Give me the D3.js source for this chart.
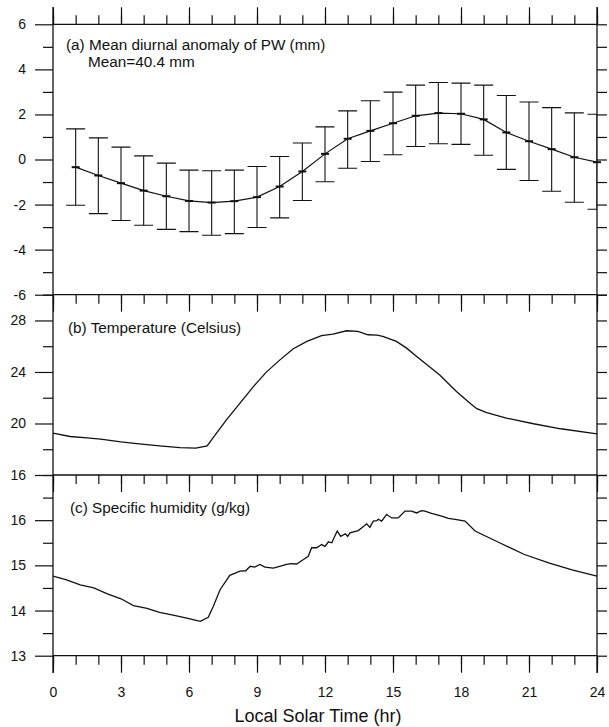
<!DOCTYPE html>
<html>
<head>
<meta charset="utf-8">
<script src="https://cdn.jsdelivr.net/npm/d3@7"></script>
<style>
  body { margin: 0; background: #fff; }
  svg { display: block; font-family: "Liberation Sans", Arial, sans-serif; }
  .domain { display: none; }
  .tick line { stroke: #111; stroke-width: 1.2; }
  .tick text { fill: #111; font-size: 14px; }
</style>
</head>
<body>
<svg id="chart" width="609" height="727"></svg>
<script>
// (a) mean diurnal anomaly of PW (mm), hourly with error bars
var pwHours = [1, 2, 3, 4, 5, 6, 7, 8, 9, 10, 11, 12, 13, 14, 15, 16, 17, 18, 19, 20, 21, 22, 23, 24]
var pwMean = [-0.34, -0.71, -1.05, -1.38, -1.63, -1.84, -1.91, -1.85, -1.67, -1.2, -0.53, 0.25,
              0.92, 1.27, 1.61, 1.94, 2.06, 2.03, 1.78, 1.2, 0.81, 0.46, 0.1, -0.12]
var pwHigh = [1.36, 0.96, 0.55, 0.16, -0.16, -0.47, -0.5, -0.47, -0.31, 0.13, 0.73, 1.45,
              2.16, 2.61, 2.99, 3.3, 3.42, 3.39, 3.3, 2.84, 2.55, 2.3, 2.07, 2.01]
var pwLow = [-2.03, -2.4, -2.71, -2.92, -3.1, -3.2, -3.36, -3.29, -3.02, -2.59, -1.82, -0.99,
             -0.39, -0.09, 0.21, 0.58, 0.7, 0.67, 0.19, -0.44, -0.93, -1.41, -1.9, -2.21]

// (b) temperature (Celsius)
var tempHours = [0, 0.75, 1.5, 2.1, 3, 3.8, 4.7, 5.6, 6.3, 6.8, 7.05, 7.65, 8.25, 8.85, 9.4, 10.0,
                 10.6, 11.2, 11.85, 12.35, 12.95, 13.45, 13.9, 14.3, 14.55, 15.15, 15.6, 16.1, 17.05,
                 17.8, 18.45, 18.7, 19.1, 20.0, 21.2, 22.4, 24]
var tempVals = [19.25, 18.99, 18.88, 18.78, 18.57, 18.42, 18.26, 18.13, 18.08, 18.26, 18.86, 20.28,
                21.58, 22.88, 23.97, 24.92, 25.8, 26.37, 26.83, 26.94, 27.2, 27.15, 26.89, 26.86,
                26.76, 26.37, 25.85, 25.12, 23.79, 22.49, 21.5, 21.15, 20.86, 20.42, 19.98, 19.59, 19.2]

// (c) specific humidity (g/kg)
var qHours = [0, 0.6, 1.2, 1.8, 2.4, 3.0, 3.55, 4.15, 4.7, 5.3, 5.9, 6.5, 6.85, 7.07, 7.37, 7.8,
              8.25, 8.5, 8.7, 8.9, 9.13, 9.35, 9.72, 10.0, 10.3, 10.5, 10.75, 11.05, 11.26, 11.41,
              11.63, 11.85, 12.0, 12.15, 12.3, 12.4, 12.54, 12.69, 12.9, 13.0, 13.1, 13.47, 13.84,
              13.98, 14.13, 14.28, 14.35, 14.5, 14.72, 14.94, 15.23, 15.53, 15.82, 16.04, 16.26,
              16.41, 16.7, 17.15, 17.44, 17.74, 18.18, 18.62, 19.7, 20.8, 21.9, 22.9, 24]
var qVals = [14.76, 14.68, 14.57, 14.5, 14.37, 14.26, 14.11, 14.05, 13.96, 13.9, 13.83, 13.76, 13.85,
             14.09, 14.46, 14.78, 14.87, 14.88, 14.98, 14.96, 15.02, 14.96, 14.94, 14.98, 15.02, 15.04,
             15.03, 15.13, 15.2, 15.39, 15.39, 15.46, 15.42, 15.52, 15.5, 15.61, 15.76, 15.64, 15.7,
             15.64, 15.72, 15.77, 15.92, 15.84, 15.98, 15.99, 16.02, 15.98, 16.13, 16.05, 16.05, 16.2,
             16.2, 16.16, 16.21, 16.2, 16.15, 16.09, 16.04, 16.02, 15.98, 15.76, 15.5, 15.24, 15.05,
             14.9, 14.76]

// ticks
var hourMinor = d3.range(0, 25, 1)
var hourMajor = [0, 3, 6, 9, 12, 15, 18, 21, 24]
var pwMajor = [-6, -4, -2, 0, 2, 4, 6]
var pwMinor = [-5, -3, -1, 1, 3, 5]
var pwAll = d3.range(-6, 7, 1)
var tempMajor = [16, 20, 24, 28]
var tempMinor = [18, 22, 26, 30]
var tempAll = [16, 18, 20, 22, 24, 26, 28, 30]
var qMajor = [13, 14, 15, 16]
var qMinor = [13.5, 14.5, 15.5, 16.5, 17]
var qAll = [13, 13.5, 14, 14.5, 15, 15.5, 16, 16.5, 17]

var svg = d3.select("#chart")
var left = 53, right = 597
var topA = 24.3, botA = 294.7, botB = 475, botC = 655.7
var ink = "#111"
var plain = function(d) { return String(d) }   // keep the hyphen-minus of the original

var x = d3.scaleLinear().domain([0, 24]).range([left, right])
var yA = d3.scaleLinear().domain([-6, 6]).range([botA, topA])
var yB = d3.scaleLinear().domain([16, 30]).range([botB, botA])
var yC = d3.scaleLinear().domain([13, 17]).range([botC, botB])

// x ticks on each panel boundary
function xTicks(ypos, up, labels) {
    var mk = up ? d3.axisTop : d3.axisBottom
    svg.append("g").attr("transform", "translate(0," + ypos + ")")
        .call(mk(x).tickValues(hourMinor).tickSize(9).tickFormat(""))
    var g = svg.append("g").attr("transform", "translate(0," + ypos + ")")
        .call(mk(x).tickValues(hourMajor).tickSize(17).tickPadding(14)
            .tickFormat(labels ? plain : ""))
    g.selectAll("text").style("font-size", "14px")
}
xTicks(topA, true, false)
xTicks(botA, false, false)
xTicks(botB, false, false)
xTicks(botC, false, true)

// y ticks, left (labelled) and right (plain)
function yTicks(scale, major, minor, all) {
    svg.append("g").attr("transform", "translate(" + left + ",0)")
        .call(d3.axisLeft(scale).tickValues(minor).tickSize(10).tickFormat(""))
    svg.append("g").attr("transform", "translate(" + left + ",0)")
        .call(d3.axisLeft(scale).tickValues(major).tickSize(18).tickPadding(9).tickFormat(plain))
    svg.append("g").attr("transform", "translate(" + right + ",0)")
        .call(d3.axisRight(scale).tickValues(all).tickSize(10).tickFormat(""))
}
yTicks(yA, pwMajor, pwMinor, pwAll)
yTicks(yB, tempMajor, tempMinor, tempAll)
yTicks(yC, qMajor, qMinor, qAll)

// frame
svg.append("line").attr("x1", left).attr("x2", left).attr("y1", 7).attr("y2", 673)
    .attr("stroke", ink).attr("stroke-width", 1.3)
svg.append("line").attr("x1", right).attr("x2", right).attr("y1", 7).attr("y2", 673)
    .attr("stroke", ink).attr("stroke-width", 1.3)
;[topA, botA, botB, botC].forEach(function(yy) {
    svg.append("line").attr("x1", left).attr("x2", right).attr("y1", yy).attr("y2", yy)
        .attr("stroke", ink).attr("stroke-width", 1.3)
})

svg.append("clipPath").attr("id", "clipA").append("rect")
    .attr("x", left).attr("y", topA).attr("width", right - left).attr("height", botA - topA)

// panel a
var pw = pwHours.map(function(h, i) {
    return {h: h, m: pwMean[i], hi: pwHigh[i], lo: pwLow[i]}
})
var bars = svg.append("g").attr("clip-path", "url(#clipA)")
bars.selectAll(".stem").data(pw).join("line")
    .attr("x1", function(d) { return x(d.h) }).attr("x2", function(d) { return x(d.h) })
    .attr("y1", function(d) { return yA(d.hi) }).attr("y2", function(d) { return yA(d.lo) })
    .attr("stroke", ink).attr("stroke-width", 1.1)
;["hi", "lo"].forEach(function(k) {
    bars.selectAll(".cap-" + k).data(pw).join("line")
        .attr("x1", function(d) { return x(d.h) - 9.5 }).attr("x2", function(d) { return x(d.h) + 9.5 })
        .attr("y1", function(d) { return yA(d[k]) }).attr("y2", function(d) { return yA(d[k]) })
        .attr("stroke", ink).attr("stroke-width", 1.1)
})
svg.append("path").datum(pw)
    .attr("d", d3.line().x(function(d) { return x(d.h) }).y(function(d) { return yA(d.m) }))
    .attr("fill", "none").attr("stroke", ink).attr("stroke-width", 1.2)
svg.selectAll(".mark").data(pw).join("line")
    .attr("x1", function(d) { return x(d.h) - 4 }).attr("x2", function(d) { return x(d.h) + 4 })
    .attr("y1", function(d) { return yA(d.m) }).attr("y2", function(d) { return yA(d.m) })
    .attr("stroke", ink).attr("stroke-width", 2)

// panels b and c
svg.append("path").datum(tempHours.map(function(h, i) { return [h, tempVals[i]] }))
    .attr("d", d3.line().x(function(d) { return x(d[0]) }).y(function(d) { return yB(d[1]) }))
    .attr("fill", "none").attr("stroke", ink).attr("stroke-width", 1.3)
svg.append("path").datum(qHours.map(function(h, i) { return [h, qVals[i]] }))
    .attr("d", d3.line().x(function(d) { return x(d[0]) }).y(function(d) { return yC(d[1]) }))
    .attr("fill", "none").attr("stroke", ink).attr("stroke-width", 1.3)

// panel titles
function label(txt, xx, yy) {
    svg.append("text").attr("x", xx).attr("y", yy).text(txt)
        .attr("fill", ink).style("font-size", "15.3px")
}
label("(a) Mean diurnal anomaly of PW (mm)", 66, 50)
label("Mean=40.4 mm", 88, 67)
label("(b) Temperature (Celsius)", 68, 333)
label("(c) Specific humidity (g/kg)", 70, 513)

svg.append("text").attr("x", 318).attr("y", 722).attr("text-anchor", "middle")
    .attr("fill", ink).style("font-size", "18px").text("Local Solar Time (hr)")
</script>
</body>
</html>
